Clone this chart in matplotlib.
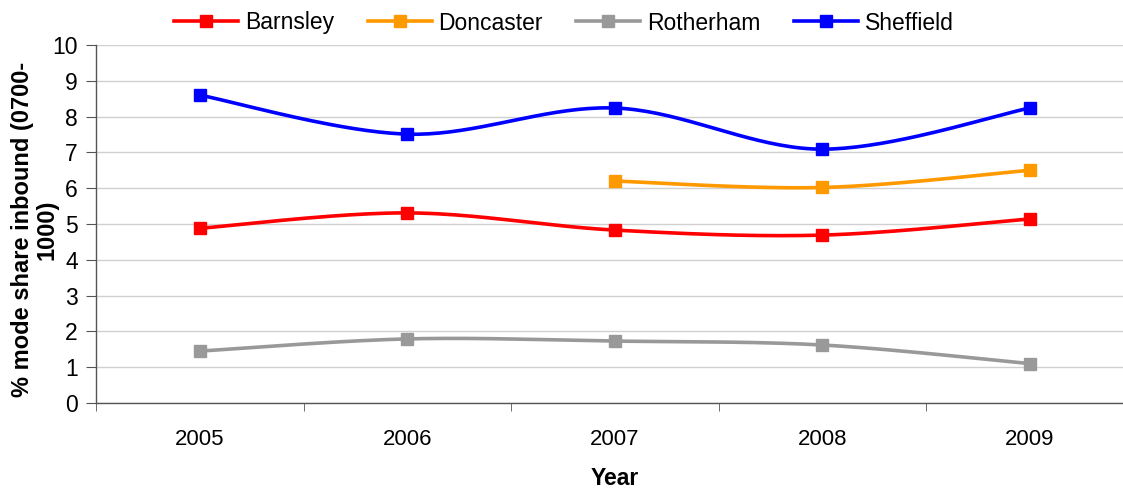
import numpy as np
import matplotlib
matplotlib.use("Agg")
import matplotlib.pyplot as plt
from matplotlib.lines import Line2D

years = ["2005", "2006", "2007", "2008", "2009"]
barnsley = [4.88, 5.31, 4.83, 4.69, 5.14]
doncaster = [np.nan, np.nan, 6.20, 6.02, 6.50]
rotherham = [1.45, 1.79, 1.73, 1.62, 1.10]
sheffield = [8.60, 7.51, 8.24, 7.09, 8.24]

series = [
    ("Barnsley", barnsley, "#FF0000"),
    ("Doncaster", doncaster, "#FF9900"),
    ("Rotherham", rotherham, "#999999"),
    ("Sheffield", sheffield, "#0000FF"),
]

plt.rcParams['font.family'] = ['Liberation Sans', 'DejaVu Sans']


def smooth(xs, ys, n=40):
    xs = np.asarray(xs, float)
    ys = np.asarray(ys, float)
    P = np.column_stack([xs, ys])
    out = [P[0]]
    m = len(P)
    for i in range(m - 1):
        p0 = P[i - 1] if i > 0 else P[i]
        p1 = P[i]
        p2 = P[i + 1]
        p3 = P[i + 2] if i + 2 < m else P[i + 1]
        c1 = p1 + (p2 - p0) / 6.0
        c2 = p2 - (p3 - p1) / 6.0
        t = np.linspace(0, 1, n)[1:, None]
        b = ((1 - t) ** 3) * p1 + 3 * ((1 - t) ** 2) * t * c1 + 3 * (1 - t) * t ** 2 * c2 + t ** 3 * p2
        out.extend(b)
    out = np.array(out)
    return out[:, 0], out[:, 1]


fig = plt.figure(figsize=(11.23, 4.91), dpi=100)
ax = fig.add_axes([96 / 1123, 88 / 491, (1133.5 - 96) / 1123, 358 / 491])

x = np.arange(len(years))
handles = []
for name, vals, col in series:
    v = np.asarray(vals, float)
    ok = ~np.isnan(v)
    sx, sy = smooth(x[ok], v[ok])
    ax.plot(sx, sy, color=col, lw=2.6, solid_capstyle='round', zorder=3)
    ax.plot(x[ok], v[ok], ls='none', marker='s', ms=8.5, color=col, zorder=4)
    handles.append(Line2D([], [], color=col, lw=2.6, marker='s', ms=8.5))

ax.set_xlim(-0.5, 4.5)
ax.set_ylim(0, 10)
ax.set_yticks(range(0, 11))
ax.set_xticks(x)
ax.set_xticklabels(years)
ax.set_xticks(np.arange(-0.5, 5, 1), minor=True)
ax.tick_params(axis='x', which='major', length=0, pad=19, labelsize=16)
ax.tick_params(axis='x', which='minor', length=6, color='#555555', direction='out')
ax.tick_params(axis='y', length=7, color='#555555', labelsize=16.5, pad=6)
ax.grid(axis='y', color='#d0d0d0', lw=1)
ax.set_axisbelow(True)
for s in ['top', 'right']:
    ax.spines[s].set_visible(False)
for s in ['left', 'bottom']:
    ax.spines[s].set_color('#555555')
    ax.spines[s].set_linewidth(1)

ax.set_xlabel("Year", fontsize=16.5, fontweight='bold', labelpad=12)
fig.text(0.031, 0.532, "% mode share inbound (0700-\n1000)", rotation=90,
         fontsize=17, fontweight='bold', ha='center', va='center',
         multialignment='center', linespacing=1.1)

fig.legend(handles, [s[0] for s in series], loc='center', bbox_to_anchor=(564 / 1123, 1 - 23 / 491),
           ncol=4, frameon=False, fontsize=16.5, handlelength=2.8, handletextpad=0.3,
           columnspacing=1.45)

fig.savefig("out.png", dpi=100)
